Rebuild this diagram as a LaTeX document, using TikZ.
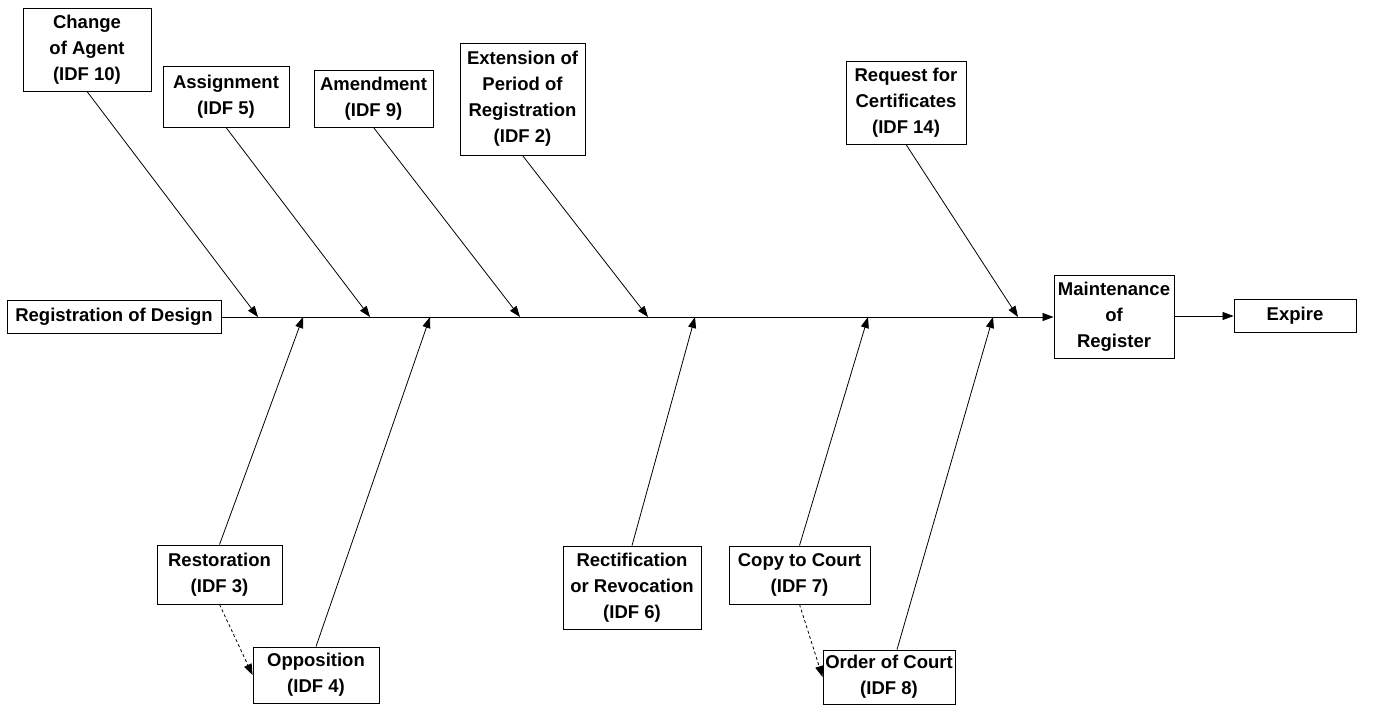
\documentclass[tikz,border=0pt]{standalone}
\usepackage{fontspec}
\setmainfont{Liberation Sans}
\usetikzlibrary{arrows.meta}
\begin{document}
\begin{tikzpicture}[x=1pt,y=-1pt,
  box/.style={draw, line width=0.9pt, align=center, inner sep=0pt,
    font=\fontsize{18.5}{26}\selectfont\bfseries},
  link/.style={line width=0.8pt, -{Triangle[length=11pt,width=8pt]}},
  dashlink/.style={link, dash pattern=on 3pt off 2.5pt}]
\useasboundingbox (0,0) rectangle (1388,705);

% spine boxes
\node[box, minimum width=214, minimum height=33] (reg) at (114,317) {Registration of Design};
\node[box, minimum width=120, minimum height=83] (maint) at (1114,317) {Maintenance\\of\\Register};
\node[box, minimum width=122, minimum height=33] (expire) at (1295,316) {Expire};

% upper branches
\node[box, minimum width=128, minimum height=83] (agent) at (87,49.5) {Change\\of Agent\\(IDF 10)};
\node[box, minimum width=126, minimum height=61] (assign) at (226,96.5) {Assignment\\(IDF 5)};
\node[box, minimum width=119, minimum height=57] (amend) at (373.5,98.5) {Amendment\\(IDF 9)};
\node[box, minimum width=125, minimum height=112] (ext) at (522.5,99) {Extension of\\Period of\\Registration\\(IDF 2)};
\node[box, minimum width=120, minimum height=83] (request) at (906,102.5) {Request for\\Certificates\\(IDF 14)};

% lower branches
\node[box, minimum width=125, minimum height=59] (restor) at (219.5,574.5) {Restoration\\(IDF 3)};
\node[box, minimum width=126, minimum height=56] (oppos) at (316,675) {Opposition\\(IDF 4)};
\node[box, minimum width=138, minimum height=83] (rect) at (632,587.5) {Rectification\\or Revocation\\(IDF 6)};
\node[box, minimum width=141, minimum height=58] (copy) at (799.5,575) {Copy to Court\\(IDF 7)};
\node[box, minimum width=132, minimum height=54] (order) at (889,677) {Order of Court\\(IDF 8)};

% points where branches meet the spine
\coordinate (tA) at (258,317);
\coordinate (tB) at (370,317);
\coordinate (tC) at (520,317);
\coordinate (tD) at (648,317);
\coordinate (tE) at (1018,317);
\coordinate (bA) at (303,317);
\coordinate (bB) at (430,317);
\coordinate (bC) at (695,317);
\coordinate (bD) at (868,317);
\coordinate (bE) at (993,317);

% spine and exit
\draw[link] (reg.east) -- (maint.west);
\draw[link] (maint.east |- expire.west) -- (expire.west);

% branch connectors
\draw[link] (agent.south) -- (tA);
\draw[link] (assign.south) -- (tB);
\draw[link] (amend.south) -- (tC);
\draw[link] (ext.south) -- (tD);
\draw[link] (request.south) -- (tE);
\draw[link] (restor.north) -- (bA);
\draw[link] (oppos.north) -- (bB);
\draw[link] (rect.north) -- (bC);
\draw[link] (copy.north) -- (bD);
\draw[link] ([xshift=8pt]order.north) -- (bE);

% dashed follow-ups
\draw[dashlink] (restor.south) -- (oppos.west);
\draw[dashlink] (copy.south) -- (order.west);
\end{tikzpicture}
\end{document}
